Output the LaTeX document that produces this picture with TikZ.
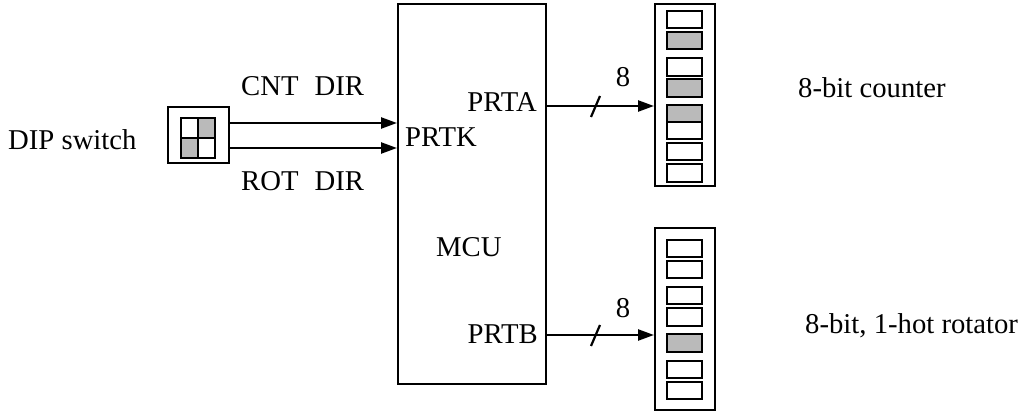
\documentclass[tikz,border=0pt]{standalone}
\usepackage{fontspec}
\setmainfont{Liberation Serif}
\usetikzlibrary{arrows.meta}
\begin{document}
\begin{tikzpicture}[x=1pt,y=-1pt,
  lbl/.style={inner sep=0pt,font=\fontsize{28.7}{32}\selectfont},
  boxln/.style={draw,line width=2.2pt,inner sep=0pt},
  led/.style={draw,line width=2.2pt},
  ledon/.style={led,fill=black!27},
  sig/.style={line width=2.4pt,-{Triangle[length=16pt,width=11pt]}},
  busmark/.style={line width=2.2pt}]
\useasboundingbox (0,0) rectangle (1029,417);
% MCU
\node[boxln,minimum width=148pt,minimum height=380pt,anchor=north west] (mcu) at (397,3) {};
% DIP switch
\node[boxln,minimum width=61pt,minimum height=56pt,anchor=north west] (dip) at (167,106) {};
\fill[black!27] (198,118) rectangle (215,138);
\fill[black!27] (181,138) rectangle (198,158);
\draw[line width=2.2pt] (181,118) rectangle (215,158);
\draw[line width=2.2pt] (198,118) -- (198,158) (181,138) -- (215,138);
% LED bars
\node[boxln,minimum width=60pt,minimum height=182pt,anchor=north west] (bara) at (654,3) {};
\node[boxln,minimum width=60pt,minimum height=182pt,anchor=north west] (barb) at (654,227) {};
\foreach \a/\b/\s in {11/28/led,32/49/ledon,58/76/led,79/97/ledon,105/122/ledon,122/139/led,143/160/led,164/182/led}
  \draw[\s] (667,\a) rectangle (702,\b);
\foreach \a/\b/\s in {240/257/led,261/278/led,287/304/led,308/326/led,334/352/ledon,361/378/led,382/399/led}
  \draw[\s] (667,\a) rectangle (702,\b);
% connectors
\coordinate (k1) at (0,123);
\coordinate (k2) at (0,148);
\coordinate (pa) at (0,106);
\coordinate (pb) at (0,335);
\draw[sig] (dip.east |- k1) -- (mcu.west |- k1);
\draw[sig] (dip.east |- k2) -- (mcu.west |- k2);
\draw[sig] (mcu.east |- pa) -- (bara.west |- pa);
\draw[sig] (mcu.east |- pb) -- (barb.west |- pb);
\draw[busmark] (591,117) -- (600,96);
\draw[busmark] (591,346) -- (600,325);
% labels
\node[lbl,anchor=base west] (tdip) at (8,150) {DIP switch};
\node[lbl,anchor=base west] (tcnt) at (241,96) {CNT\hspace{16pt}DIR};
\node[lbl,anchor=base west] (trot) at (241,191) {ROT\hspace{16pt}DIR};
\node[lbl,anchor=base east] (tprta) at (537,112) {PRTA};
\node[lbl,anchor=base west] (tprtk) at (405,147) {PRTK};
\node[lbl,anchor=base west] (tmcu) at (436,256) {MCU};
\node[lbl,anchor=base east] (tprtb) at (538,343) {PRTB};
\node[lbl,anchor=base] (t8a) at (623,87) {8};
\node[lbl,anchor=base] (t8b) at (623,317) {8};
\node[lbl,anchor=base west] (tcount) at (798,98) {8-bit counter};
\node[lbl,anchor=base west] (trotr) at (805,333) {8-bit, 1-hot rotator};
\end{tikzpicture}
\end{document}
